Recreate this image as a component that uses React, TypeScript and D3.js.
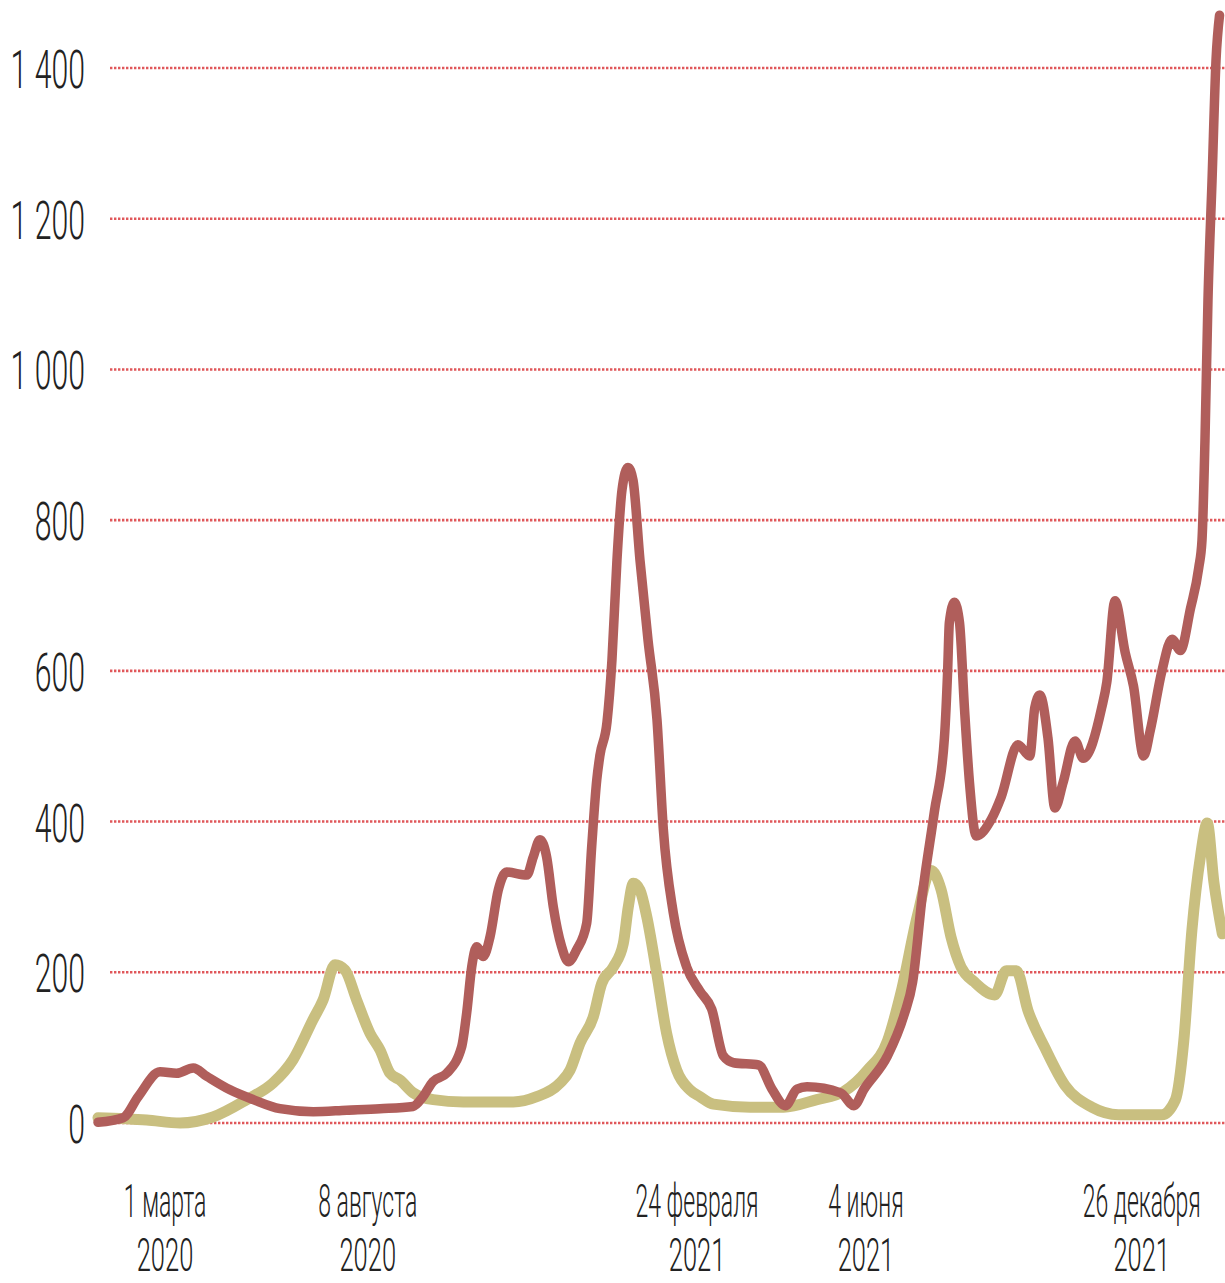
import React from "react";
import * as d3 from "d3";

// x unit: week index from start of series
const redWeeks = [0, 2.36, 3.76, 5.79, 7.35, 8.9, 10.15, 12.33, 14.51, 17.0, 20.11, 23.23, 26.34, 29.42, 30.36, 31.29, 32.57, 33.97, 34.44, 34.91, 35.37, 35.99, 36.62, 37.39, 38.18, 40.05, 40.66, 41.28, 41.91, 42.53, 43.31, 43.93, 44.72, 45.65, 46.12, 46.59, 46.89, 47.55, 48.01, 48.48, 48.95, 49.51, 49.98, 50.63, 51.38, 52.22, 52.81, 53.74, 54.99, 56.23, 57.33, 58.42, 59.37, 61.71, 62.96, 64.21, 65.3, 66.23, 69.37, 70.62, 71.56, 73.75, 75.29, 76.1, 77.03, 78.13, 79.07, 79.37, 79.53, 80.0, 80.48, 80.94, 81.41, 82.04, 83.45, 84.38, 85.94, 87.04, 87.51, 87.98, 88.74, 89.39, 90.16, 91.27, 92.04, 93.76, 94.24, 95.0, 95.96, 96.73, 97.68, 98.3, 99.39, 100.33, 101.11, 102.06, 102.83, 103.13, 103.41, 103.69, 104.07, 104.44, 104.77];
const redValues = [1, 7, 35, 68, 66, 73, 62, 44, 31, 19, 15, 17, 19, 22, 35, 55, 66, 101, 146, 207, 234, 221, 247, 309, 333, 329, 353, 376, 353, 287, 234, 214, 230, 265, 367, 455, 488, 532, 614, 747, 840, 870, 853, 747, 641, 535, 390, 279, 207, 175, 151, 89, 80, 77, 45, 23, 45, 48, 40, 23, 45, 89, 143, 187, 305, 413, 511, 600, 664, 691, 664, 551, 452, 381, 403, 433, 502, 487, 551, 568, 511, 418, 452, 507, 484, 551, 585, 693, 624, 580, 487, 521, 600, 642, 627, 683, 737, 773, 906, 1092, 1251, 1410, 1470];

const tanWeeks = [0, 4.55, 7.66, 10.74, 13.89, 16.35, 18.22, 20.08, 21.02, 22.14, 23.07, 24.17, 25.41, 26.34, 27.28, 28.21, 29.45, 31.32, 34.12, 38.8, 40.98, 43.16, 44.09, 45.03, 46.27, 47.05, 48.14, 49.07, 49.54, 50.01, 50.63, 51.26, 52.19, 53.12, 54.06, 55.3, 56.23, 57.49, 60.91, 64.05, 67.16, 69.69, 71.87, 73.75, 75.01, 76.56, 77.81, 78.75, 79.68, 80.62, 81.88, 83.76, 84.85, 85.79, 86.88, 88.45, 90.33, 92.83, 95.33, 99.39, 100.65, 101.43, 102.19, 102.99, 103.62, 104.24, 105.03];
const tanValues = [7, 4, 0, 8, 31, 53, 84, 137, 163, 210, 203, 163, 119, 97, 66, 57, 40, 31, 28, 28, 35, 53, 70, 106, 141, 185, 207, 238, 287, 318, 309, 274, 199, 119, 70, 44, 35, 25, 21, 21, 31, 42, 70, 109, 173, 276, 335, 310, 247, 207, 187, 170, 202, 202, 149, 100, 50, 21, 11, 11, 31, 109, 256, 354, 398, 320, 251];

const yTicks = [0, 200, 400, 600, 800, 1000, 1200, 1400];
const yTickLabels = ["0", "200", "400", "600", "800", "1 000", "1 200", "1 400"];

const xLabelWeeks = [6.26, 25.2, 55.96, 71.74, 97.5];
const xLabelLine1 = ["1 марта", "8 августа", "24 февраля", "4 июня", "26 декабря"];
const xLabelLine2 = ["2020", "2020", "2021", "2021", "2021"];

const W = 1225;
const H = 1283;

export default function App() {
  const x = d3.scaleLinear().domain([0, 105]).range([98, 1222]);
  const y = d3.scaleLinear().domain([0, 1400]).range([1123, 68]);

  const line = d3
    .line<[number, number]>()
    .x((d) => x(d[0]))
    .y((d) => y(d[1]))
    .curve(d3.curveMonotoneX);

  const redData = redWeeks.map((w, i) => [w, redValues[i]] as [number, number]);
  const tanData = tanWeeks.map((w, i) => [w, tanValues[i]] as [number, number]);

  const font = "Roboto, 'Liberation Sans', sans-serif";

  return (
    <svg
      width={W}
      height={H}
      style={{ position: "absolute", left: 0, top: 0, background: "#fff" }}
    >
      {yTicks.map((t, i) => (
        <g key={"g" + t}>
          <line
            x1={110}
            x2={W}
            y1={y(t)}
            y2={y(t)}
            stroke="#e0575a"
            strokeWidth={2.6}
            strokeDasharray="2.4 1.6"
          />
          <g transform={`translate(85,${y(t) + 20}) scale(0.57,1)`}>
            <text
              textAnchor="end"
              fontFamily={font}
              fontSize={53}
              fontWeight={300}
              fill="#222"
            >
              {yTickLabels[i]}
            </text>
          </g>
        </g>
      ))}
      <path
        d={line(tanData) || ""}
        fill="none"
        stroke="#c9bf80"
        strokeWidth={11}
        strokeLinejoin="round"
        strokeLinecap="round"
      />
      <path
        d={line(redData) || ""}
        fill="none"
        stroke="#b05e5b"
        strokeWidth={9.5}
        strokeLinejoin="round"
        strokeLinecap="round"
      />
      {xLabelWeeks.map((w, i) => (
        <g key={"x" + i}>
          <g transform={`translate(${x(w)},1217) scale(0.5,1)`}>
            <text
              textAnchor="middle"
              fontFamily={font}
              fontSize={46}
              fontWeight={300}
              fill="#222"
            >
              {xLabelLine1[i]}
            </text>
          </g>
          <g transform={`translate(${x(w)},1271) scale(0.555,1)`}>
            <text
              textAnchor="middle"
              fontFamily={font}
              fontSize={46}
              fontWeight={300}
              fill="#222"
            >
              {xLabelLine2[i]}
            </text>
          </g>
        </g>
      ))}
    </svg>
  );
}
